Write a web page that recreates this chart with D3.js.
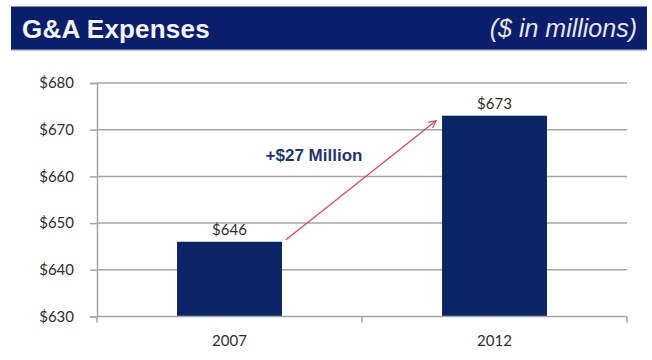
<!DOCTYPE html>
<html>
<head>
<meta charset="utf-8">
<script src="https://cdn.jsdelivr.net/npm/d3@7"></script>
<style>
  html, body { margin: 0; padding: 0; background: #ffffff; }
  svg { display: block; }
</style>
</head>
<body>
<svg id="chart" width="652" height="360"></svg>
<script>
// G&A expenses, $ in millions
const years = ["2007", "2012"];
const expenses = [646, 673];
const yTicks = [630, 640, 650, 660, 670, 680];
const title = "G&A Expenses";
const unitNote = "($ in millions)";
const changeNote = "+$27 Million";

const svg = d3.select("#chart");
const plot = { left: 97, right: 627, top: 83, bottom: 316.5 };

const navy = "#0b1e6c";
const barColor = "#0b2466";
const gridColor = "#a6a6a6";
const textColor = "#2e2e2e";
const labelFont = "Lato, 'Open Sans', sans-serif";

// Header band
const header = svg.append("g");
header.append("rect")
  .attr("x", 11).attr("y", 8).attr("width", 636).attr("height", 43)
  .attr("fill", "#8a8f9c").attr("opacity", 0.5);
header.append("rect")
  .attr("x", 11).attr("y", 6.5).attr("width", 636).attr("height", 43)
  .attr("fill", navy);
header.append("text")
  .attr("x", 22).attr("y", 37.5)
  .attr("font-family", "Arial, 'Liberation Sans', sans-serif")
  .attr("font-weight", "bold").attr("font-size", 26)
  .attr("letter-spacing", 0.2)
  .attr("fill", "#f4f4f4")
  .text(title);
header.append("text")
  .attr("x", 637).attr("y", 37)
  .attr("text-anchor", "end")
  .attr("font-family", "Arial, 'Liberation Sans', sans-serif")
  .attr("font-style", "italic").attr("font-size", 25)
  .attr("fill", "#e6e6e6")
  .text(unitNote);

// Scales
const x = d3.scaleBand()
  .domain(years)
  .range([plot.left, plot.right])
  .paddingInner(0.604)
  .paddingOuter(0.302);

const y = d3.scaleLinear()
  .domain([d3.min(yTicks), d3.max(yTicks)])
  .range([plot.bottom, plot.top]);

// Gridlines
svg.append("g")
  .selectAll("line")
  .data(yTicks.slice(1))
  .join("line")
  .attr("x1", plot.left).attr("x2", plot.right)
  .attr("y1", d => y(d)).attr("y2", d => y(d))
  .attr("stroke", gridColor).attr("stroke-width", 1.5);

// Y axis
const yAxis = svg.append("g")
  .attr("transform", `translate(${plot.left},0)`)
  .call(d3.axisLeft(y).tickValues(yTicks).tickFormat(d => "$" + d).tickSize(7).tickPadding(16));
yAxis.select(".domain").attr("stroke", gridColor).attr("stroke-width", 1.5);
yAxis.selectAll(".tick line").attr("stroke", gridColor).attr("stroke-width", 1.5);
yAxis.selectAll(".tick text")
  .attr("font-family", labelFont).attr("font-size", 15)
  .attr("fill", textColor);

// Bars
svg.append("g")
  .selectAll("rect")
  .data(years.map((yr, i) => ({ yr, v: expenses[i] })))
  .join("rect")
  .attr("x", d => x(d.yr))
  .attr("y", d => y(d.v))
  .attr("width", x.bandwidth())
  .attr("height", d => y(yTicks[0]) - y(d.v))
  .attr("fill", barColor);

// X axis: baseline, category boundary ticks and labels
const xAxis = svg.append("g");
xAxis.append("line")
  .attr("x1", plot.left).attr("x2", plot.right)
  .attr("y1", plot.bottom).attr("y2", plot.bottom)
  .attr("stroke", gridColor).attr("stroke-width", 1.5);
const bounds = d3.range(years.length + 1).map(i => plot.left + i * x.step());
xAxis.selectAll("line.bound")
  .data(bounds)
  .join("line")
  .attr("class", "bound")
  .attr("x1", d => d).attr("x2", d => d)
  .attr("y1", plot.bottom).attr("y2", plot.bottom + 6)
  .attr("stroke", gridColor).attr("stroke-width", 1.5);
xAxis.selectAll("text")
  .data(years)
  .join("text")
  .attr("x", d => x(d) + x.bandwidth() / 2)
  .attr("y", 346)
  .attr("text-anchor", "middle")
  .attr("font-family", labelFont).attr("font-size", 15)
  .attr("fill", textColor)
  .text(d => d);

// Value labels
svg.append("g")
  .selectAll("text")
  .data(years.map((yr, i) => ({ yr, v: expenses[i] })))
  .join("text")
  .attr("x", d => x(d.yr) + x.bandwidth() / 2)
  .attr("y", d => y(d.v) - 7)
  .attr("text-anchor", "middle")
  .attr("font-family", labelFont).attr("font-size", 15)
  .attr("fill", textColor)
  .text(d => "$" + d.v);

// Growth arrow between the two bars
const arrowColor = "#d0505a";
svg.append("defs").append("marker")
  .attr("id", "head")
  .attr("viewBox", "0 0 10 10")
  .attr("refX", 9).attr("refY", 5)
  .attr("markerWidth", 9).attr("markerHeight", 9)
  .attr("markerUnits", "userSpaceOnUse")
  .attr("orient", "auto")
  .append("path")
  .attr("d", "M1,1 L9,5 L1,9")
  .attr("fill", "none")
  .attr("stroke", arrowColor)
  .attr("stroke-width", 1.4);

const x0 = x(years[0]) + x.bandwidth() + 4;
const y0 = y(expenses[0]) - 2;
const x1 = x(years[1]) - 6;
const y1 = y(expenses[1]) + 5;
svg.append("line")
  .attr("x1", x0).attr("y1", y0)
  .attr("x2", x1).attr("y2", y1)
  .attr("stroke", arrowColor).attr("stroke-width", 1.4)
  .attr("marker-end", "url(#head)");

svg.append("text")
  .attr("x", 314).attr("y", 161)
  .attr("text-anchor", "middle")
  .attr("font-family", "Arial, 'Liberation Sans', sans-serif")
  .attr("font-weight", "bold").attr("font-size", 17)
  .attr("fill", "#1f3768")
  .text(changeNote);
</script>
</body>
</html>
